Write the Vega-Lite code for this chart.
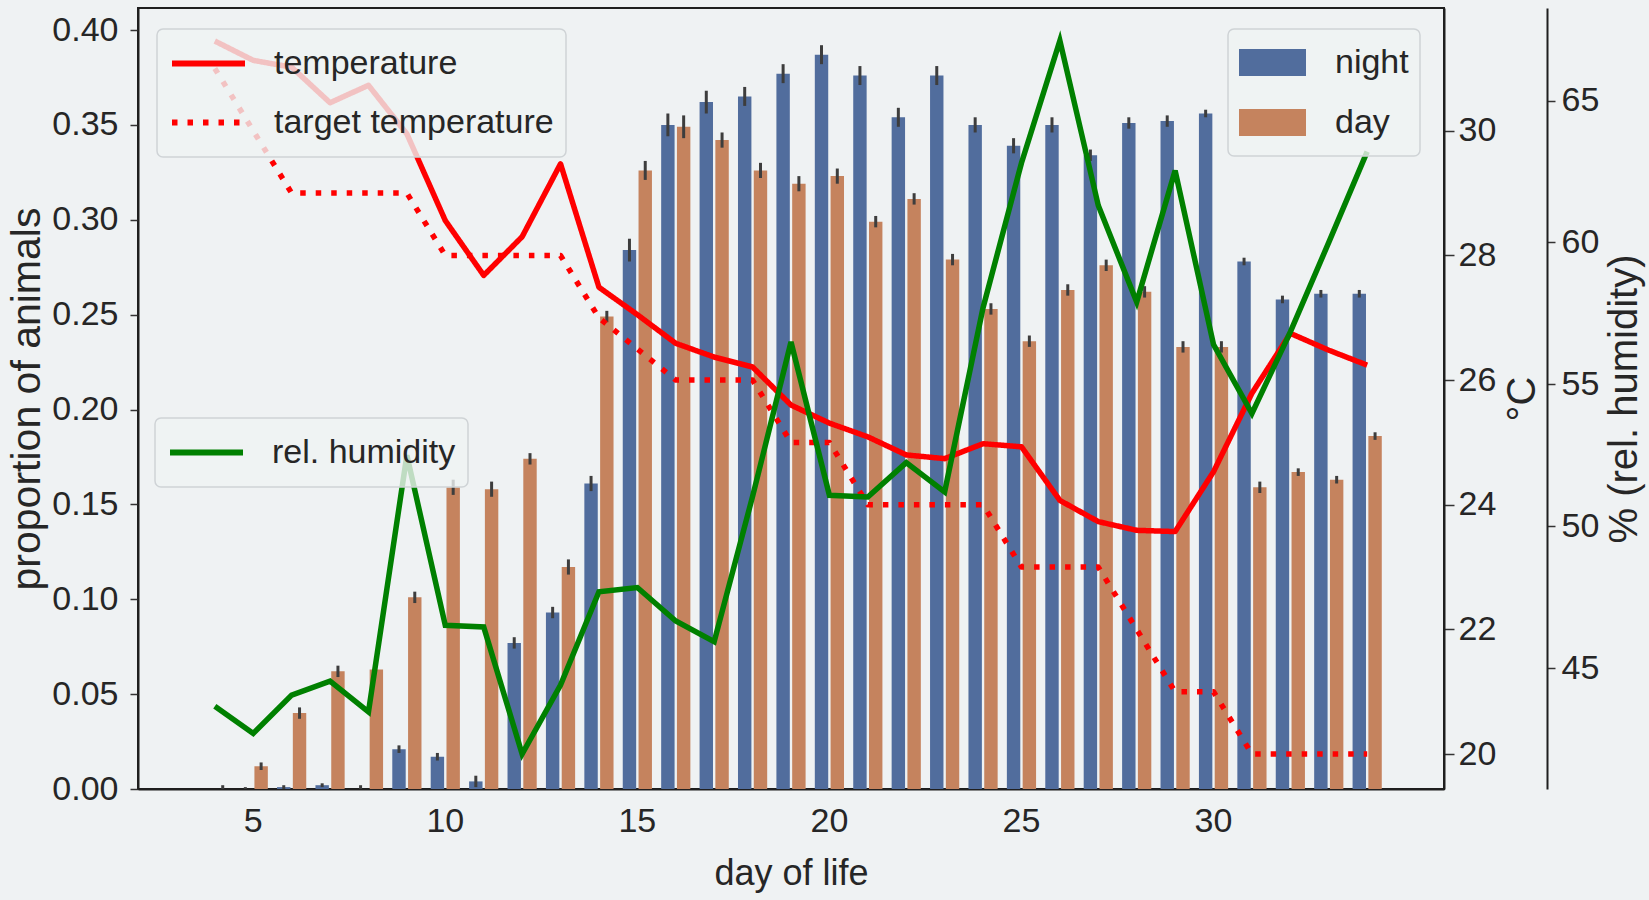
{
  "$schema": "https://vega.github.io/schema/vega-lite/v6.json",
  "width": 1306,
  "height": 781,
  "autosize": {"type": "none"},
  "padding": {"left": 138, "top": 8, "right": 205, "bottom": 111},
  "background": "#eff2f3",
  "config": {
    "font": "Liberation Sans",
    "view": {"stroke": "#1f1f1f", "strokeWidth": 2},
    "axis": {
      "labelFont": "Liberation Sans", "labelFontSize": 34, "labelColor": "#262626",
      "titleFont": "Liberation Sans", "titleFontWeight": "normal", "titleColor": "#262626",
      "domainColor": "#1f1f1f", "domainWidth": 2, "tickColor": "#333333", "tickWidth": 1.5, "grid": false
    },
    "legend": {
      "labelFont": "Liberation Sans", "labelFontSize": 34, "labelColor": "#262626", "labelLimit": 600,
      "fillColor": "rgba(239,242,243,0.8)", "strokeColor": "#cfd3d6", "cornerRadius": 6, "strokeWidth": 1.5
    }
  },
  "datasets": {
    "bars": [
      {"day":4,"period":"night","value":0,"lo":0,"hi":0},
      {"day":4,"period":"day","value":0,"lo":0,"hi":0.002},
      {"day":5,"period":"night","value":0,"lo":0,"hi":0.001},
      {"day":5,"period":"day","value":0.012,"lo":0.010,"hi":0.014},
      {"day":6,"period":"night","value":0.001,"lo":0,"hi":0.002},
      {"day":6,"period":"day","value":0.040,"lo":0.037,"hi":0.043},
      {"day":7,"period":"night","value":0.002,"lo":0.001,"hi":0.003},
      {"day":7,"period":"day","value":0.062,"lo":0.059,"hi":0.065},
      {"day":8,"period":"night","value":0,"lo":0,"hi":0.002},
      {"day":8,"period":"day","value":0.063,"lo":0.063,"hi":0.063},
      {"day":9,"period":"night","value":0.021,"lo":0.019,"hi":0.023},
      {"day":9,"period":"day","value":0.101,"lo":0.098,"hi":0.104},
      {"day":10,"period":"night","value":0.017,"lo":0.015,"hi":0.019},
      {"day":10,"period":"day","value":0.159,"lo":0.155,"hi":0.163},
      {"day":11,"period":"night","value":0.004,"lo":0.001,"hi":0.007},
      {"day":11,"period":"day","value":0.158,"lo":0.154,"hi":0.162},
      {"day":12,"period":"night","value":0.077,"lo":0.074,"hi":0.080},
      {"day":12,"period":"day","value":0.174,"lo":0.171,"hi":0.177},
      {"day":13,"period":"night","value":0.093,"lo":0.090,"hi":0.096},
      {"day":13,"period":"day","value":0.117,"lo":0.113,"hi":0.121},
      {"day":14,"period":"night","value":0.161,"lo":0.157,"hi":0.165},
      {"day":14,"period":"day","value":0.249,"lo":0.246,"hi":0.252},
      {"day":15,"period":"night","value":0.284,"lo":0.278,"hi":0.290},
      {"day":15,"period":"day","value":0.326,"lo":0.321,"hi":0.331},
      {"day":16,"period":"night","value":0.350,"lo":0.344,"hi":0.356},
      {"day":16,"period":"day","value":0.349,"lo":0.343,"hi":0.355},
      {"day":17,"period":"night","value":0.362,"lo":0.356,"hi":0.368},
      {"day":17,"period":"day","value":0.342,"lo":0.338,"hi":0.346},
      {"day":18,"period":"night","value":0.365,"lo":0.360,"hi":0.370},
      {"day":18,"period":"day","value":0.326,"lo":0.322,"hi":0.330},
      {"day":19,"period":"night","value":0.377,"lo":0.372,"hi":0.382},
      {"day":19,"period":"day","value":0.319,"lo":0.315,"hi":0.323},
      {"day":20,"period":"night","value":0.387,"lo":0.382,"hi":0.392},
      {"day":20,"period":"day","value":0.323,"lo":0.319,"hi":0.327},
      {"day":21,"period":"night","value":0.376,"lo":0.371,"hi":0.381},
      {"day":21,"period":"day","value":0.299,"lo":0.296,"hi":0.302},
      {"day":22,"period":"night","value":0.354,"lo":0.349,"hi":0.359},
      {"day":22,"period":"day","value":0.311,"lo":0.308,"hi":0.314},
      {"day":23,"period":"night","value":0.376,"lo":0.371,"hi":0.381},
      {"day":23,"period":"day","value":0.279,"lo":0.276,"hi":0.282},
      {"day":24,"period":"night","value":0.350,"lo":0.346,"hi":0.354},
      {"day":24,"period":"day","value":0.253,"lo":0.250,"hi":0.256},
      {"day":25,"period":"night","value":0.339,"lo":0.335,"hi":0.343},
      {"day":25,"period":"day","value":0.236,"lo":0.233,"hi":0.239},
      {"day":26,"period":"night","value":0.350,"lo":0.346,"hi":0.354},
      {"day":26,"period":"day","value":0.263,"lo":0.260,"hi":0.266},
      {"day":27,"period":"night","value":0.334,"lo":0.331,"hi":0.337},
      {"day":27,"period":"day","value":0.276,"lo":0.273,"hi":0.279},
      {"day":28,"period":"night","value":0.351,"lo":0.348,"hi":0.354},
      {"day":28,"period":"day","value":0.262,"lo":0.259,"hi":0.265},
      {"day":29,"period":"night","value":0.352,"lo":0.349,"hi":0.355},
      {"day":29,"period":"day","value":0.233,"lo":0.230,"hi":0.236},
      {"day":30,"period":"night","value":0.356,"lo":0.354,"hi":0.358},
      {"day":30,"period":"day","value":0.233,"lo":0.230,"hi":0.236},
      {"day":31,"period":"night","value":0.278,"lo":0.276,"hi":0.280},
      {"day":31,"period":"day","value":0.159,"lo":0.156,"hi":0.162},
      {"day":32,"period":"night","value":0.258,"lo":0.256,"hi":0.260},
      {"day":32,"period":"day","value":0.167,"lo":0.165,"hi":0.169},
      {"day":33,"period":"night","value":0.261,"lo":0.259,"hi":0.263},
      {"day":33,"period":"day","value":0.163,"lo":0.161,"hi":0.165},
      {"day":34,"period":"night","value":0.261,"lo":0.259,"hi":0.263},
      {"day":34,"period":"day","value":0.186,"lo":0.184,"hi":0.188}
    ],
    "temps": [
      {"day":4,"series":"temperature","value":31.44},{"day":5,"series":"temperature","value":31.13},
      {"day":6,"series":"temperature","value":31.02},{"day":7,"series":"temperature","value":30.45},
      {"day":8,"series":"temperature","value":30.73},{"day":9,"series":"temperature","value":29.95},
      {"day":10,"series":"temperature","value":28.56},{"day":11,"series":"temperature","value":27.68},
      {"day":12,"series":"temperature","value":28.30},{"day":13,"series":"temperature","value":29.47},
      {"day":14,"series":"temperature","value":27.49},{"day":15,"series":"temperature","value":27.05},
      {"day":16,"series":"temperature","value":26.59},{"day":17,"series":"temperature","value":26.37},
      {"day":18,"series":"temperature","value":26.21},{"day":19,"series":"temperature","value":25.60},
      {"day":20,"series":"temperature","value":25.31},{"day":21,"series":"temperature","value":25.09},
      {"day":22,"series":"temperature","value":24.80},{"day":23,"series":"temperature","value":24.74},
      {"day":24,"series":"temperature","value":24.98},{"day":25,"series":"temperature","value":24.93},
      {"day":26,"series":"temperature","value":24.07},{"day":27,"series":"temperature","value":23.73},
      {"day":28,"series":"temperature","value":23.59},{"day":29,"series":"temperature","value":23.57},
      {"day":30,"series":"temperature","value":24.53},{"day":31,"series":"temperature","value":25.79},
      {"day":32,"series":"temperature","value":26.75},{"day":33,"series":"temperature","value":26.48},
      {"day":34,"series":"temperature","value":26.24},
      {"day":4,"series":"target temperature","value":31},{"day":5,"series":"target temperature","value":30},
      {"day":6,"series":"target temperature","value":29},{"day":7,"series":"target temperature","value":29},
      {"day":8,"series":"target temperature","value":29},{"day":9,"series":"target temperature","value":29},
      {"day":10,"series":"target temperature","value":28},{"day":11,"series":"target temperature","value":28},
      {"day":12,"series":"target temperature","value":28},{"day":13,"series":"target temperature","value":28},
      {"day":14,"series":"target temperature","value":27},{"day":15,"series":"target temperature","value":26.5},
      {"day":16,"series":"target temperature","value":26},{"day":17,"series":"target temperature","value":26},
      {"day":18,"series":"target temperature","value":26},{"day":19,"series":"target temperature","value":25},
      {"day":20,"series":"target temperature","value":25},{"day":21,"series":"target temperature","value":24},
      {"day":22,"series":"target temperature","value":24},{"day":23,"series":"target temperature","value":24},
      {"day":24,"series":"target temperature","value":24},{"day":25,"series":"target temperature","value":23},
      {"day":26,"series":"target temperature","value":23},{"day":27,"series":"target temperature","value":23},
      {"day":28,"series":"target temperature","value":22},{"day":29,"series":"target temperature","value":21},
      {"day":30,"series":"target temperature","value":21},{"day":31,"series":"target temperature","value":20},
      {"day":32,"series":"target temperature","value":20},{"day":33,"series":"target temperature","value":20},
      {"day":34,"series":"target temperature","value":20}
    ],
    "humidity": [
      {"day":4,"humidity":43.66},{"day":5,"humidity":42.70},{"day":6,"humidity":44.05},{"day":7,"humidity":44.54},
      {"day":8,"humidity":43.46},{"day":9,"humidity":52.50},{"day":10,"humidity":46.51},{"day":11,"humidity":46.45},
      {"day":12,"humidity":41.97},{"day":13,"humidity":44.40},{"day":14,"humidity":47.69},{"day":15,"humidity":47.84},
      {"day":16,"humidity":46.66},{"day":17,"humidity":45.93},{"day":18,"humidity":51.05},{"day":19,"humidity":56.49},
      {"day":20,"humidity":51.09},{"day":21,"humidity":51.03},{"day":22,"humidity":52.24},{"day":23,"humidity":51.21},
      {"day":24,"humidity":57.70},{"day":25,"humidity":62.80},{"day":26,"humidity":67.11},{"day":27,"humidity":61.30},
      {"day":28,"humidity":57.90},{"day":29,"humidity":62.53},{"day":30,"humidity":56.40},{"day":31,"humidity":53.97},
      {"day":32,"humidity":56.85},{"day":33,"humidity":60.00},{"day":34,"humidity":63.20}
    ]
  },
  "layer": [
    {
      "data": {"name": "bars"},
      "mark": {"type": "bar"},
      "encoding": {
        "x": {"field": "day", "type": "ordinal",
          "scale": {"type": "band", "domain": [3,4,5,6,7,8,9,10,11,12,13,14,15,16,17,18,19,20,21,22,23,24,25,26,27,28,29,30,31,32,33,34,35], "paddingInner": 0.24, "paddingOuter": 0.62},
          "axis": {"title": "day of life", "values": [5,10,15,20,25,30], "labelAngle": 0, "ticks": false, "tickSize": 0, "labelPadding": 15, "titleFontSize": 36, "titlePadding": 18}},
        "xOffset": {"field": "period", "type": "nominal", "sort": ["night", "day"], "scale": {"domain": ["night", "day"], "paddingInner": 0.15}},
        "y": {"field": "value", "type": "quantitative",
          "scale": {"domain": [0, 0.4116], "nice": false, "zero": false},
          "axis": {"orient": "left", "title": "proportion of animals", "values": [0,0.05,0.1,0.15,0.2,0.25,0.3,0.35,0.4], "format": ".2f", "tickSize": 8, "labelPadding": 12, "titleFontSize": 41, "titlePadding": 3}},
        "color": {"field": "period", "type": "nominal",
          "scale": {"domain": ["night", "day"], "range": ["#516d9d", "#c5835e"]},
          "legend": {"title": null, "orient": "none", "legendX": 1090, "legendY": 21, "padding": 11, "clipHeight": 45,
            "symbolType": "M-1,-0.4H1V0.4H-1Z", "symbolSize": 4489, "symbolStrokeWidth": 0, "labelOffset": 29, "rowPadding": 15}}
      }
    },
    {
      "data": {"name": "bars"},
      "mark": {"type": "rule", "color": "#3d3d3d", "strokeWidth": 3},
      "encoding": {
        "x": {"field": "day", "type": "ordinal",
          "scale": {"type": "band", "domain": [3,4,5,6,7,8,9,10,11,12,13,14,15,16,17,18,19,20,21,22,23,24,25,26,27,28,29,30,31,32,33,34,35], "paddingInner": 0.24, "paddingOuter": 0.62},
          "axis": {"title": "day of life", "values": [5,10,15,20,25,30], "labelAngle": 0, "ticks": false, "tickSize": 0, "labelPadding": 15, "titleFontSize": 36, "titlePadding": 18}},
        "xOffset": {"field": "period", "type": "nominal", "sort": ["night", "day"], "scale": {"domain": ["night", "day"], "paddingInner": 0.15}},
        "y": {"field": "lo", "type": "quantitative", "scale": {"domain": [0, 0.4116], "nice": false, "zero": false}, "axis": null},
        "y2": {"field": "hi"}
      }
    },
    {
      "data": {"name": "temps"},
      "mark": {"type": "line", "strokeWidth": 5.5, "strokeCap": "butt", "strokeJoin": "round"},
      "encoding": {
        "x": {"field": "day", "type": "ordinal",
          "scale": {"type": "band", "domain": [3,4,5,6,7,8,9,10,11,12,13,14,15,16,17,18,19,20,21,22,23,24,25,26,27,28,29,30,31,32,33,34,35], "paddingInner": 0.24, "paddingOuter": 0.62},
          "axis": {"title": "day of life", "values": [5,10,15,20,25,30], "labelAngle": 0, "ticks": false, "tickSize": 0, "labelPadding": 15, "titleFontSize": 36, "titlePadding": 18}},
        "y": {"field": "value", "type": "quantitative",
          "scale": {"domain": [19.44, 31.97], "nice": false, "zero": false},
          "axis": {"orient": "right", "title": "°C", "values": [20,22,24,26,28,30], "tickSize": 10, "labelPadding": 4, "titleFontSize": 40, "titlePadding": 7, "titleAngle": 270, "titleBaseline": "top"}},
        "color": {"field": "series", "type": "nominal",
          "scale": {"domain": ["temperature", "target temperature"], "range": ["#ff0000", "#ff0000"]},
          "legend": {"title": null, "orient": "none", "legendX": 19, "legendY": 21, "padding": 12, "clipHeight": 45,
            "symbolType": "stroke", "symbolSize": 5329, "symbolStrokeWidth": 6, "labelOffset": 26, "rowPadding": 14}},
        "strokeDash": {"field": "series", "type": "nominal",
          "scale": {"domain": ["temperature", "target temperature"], "range": [[1, 0], [5.5, 10]]},
          "legend": {"title": null, "orient": "none", "legendX": 19, "legendY": 21, "padding": 12, "clipHeight": 45,
            "symbolType": "stroke", "symbolSize": 5329, "symbolStrokeWidth": 6, "labelOffset": 26, "rowPadding": 14}}
      }
    },
    {
      "data": {"name": "humidity"},
      "mark": {"type": "line", "strokeWidth": 5.5, "strokeJoin": "miter"},
      "encoding": {
        "x": {"field": "day", "type": "ordinal",
          "scale": {"type": "band", "domain": [3,4,5,6,7,8,9,10,11,12,13,14,15,16,17,18,19,20,21,22,23,24,25,26,27,28,29,30,31,32,33,34,35], "paddingInner": 0.24, "paddingOuter": 0.62},
          "axis": {"title": "day of life", "values": [5,10,15,20,25,30], "labelAngle": 0, "ticks": false, "tickSize": 0, "labelPadding": 15, "titleFontSize": 36, "titlePadding": 18}},
        "y": {"field": "humidity", "type": "quantitative",
          "scale": {"domain": [40.74, 68.26], "nice": false, "zero": false},
          "axis": {"orient": "right", "offset": 103, "title": "% (rel. humidity)", "values": [45,50,55,60,65], "tickSize": 8, "labelPadding": 6, "titleFontSize": 40, "titlePadding": 6, "titleAngle": 270, "titleBaseline": "top"}},
        "color": {"datum": "rel. humidity",
          "scale": {"domain": ["rel. humidity"], "range": ["#008000"]},
          "legend": {"title": null, "orient": "none", "legendX": 17, "legendY": 410, "padding": 12, "clipHeight": 45,
            "symbolType": "stroke", "symbolSize": 5329, "symbolStrokeWidth": 6, "labelOffset": 26}}
      }
    }
  ],
  "resolve": {
    "scale": {"y": "independent", "color": "independent", "strokeDash": "independent"},
    "axis": {"y": "independent"},
    "legend": {"color": "independent", "strokeDash": "independent"}
  }
}
